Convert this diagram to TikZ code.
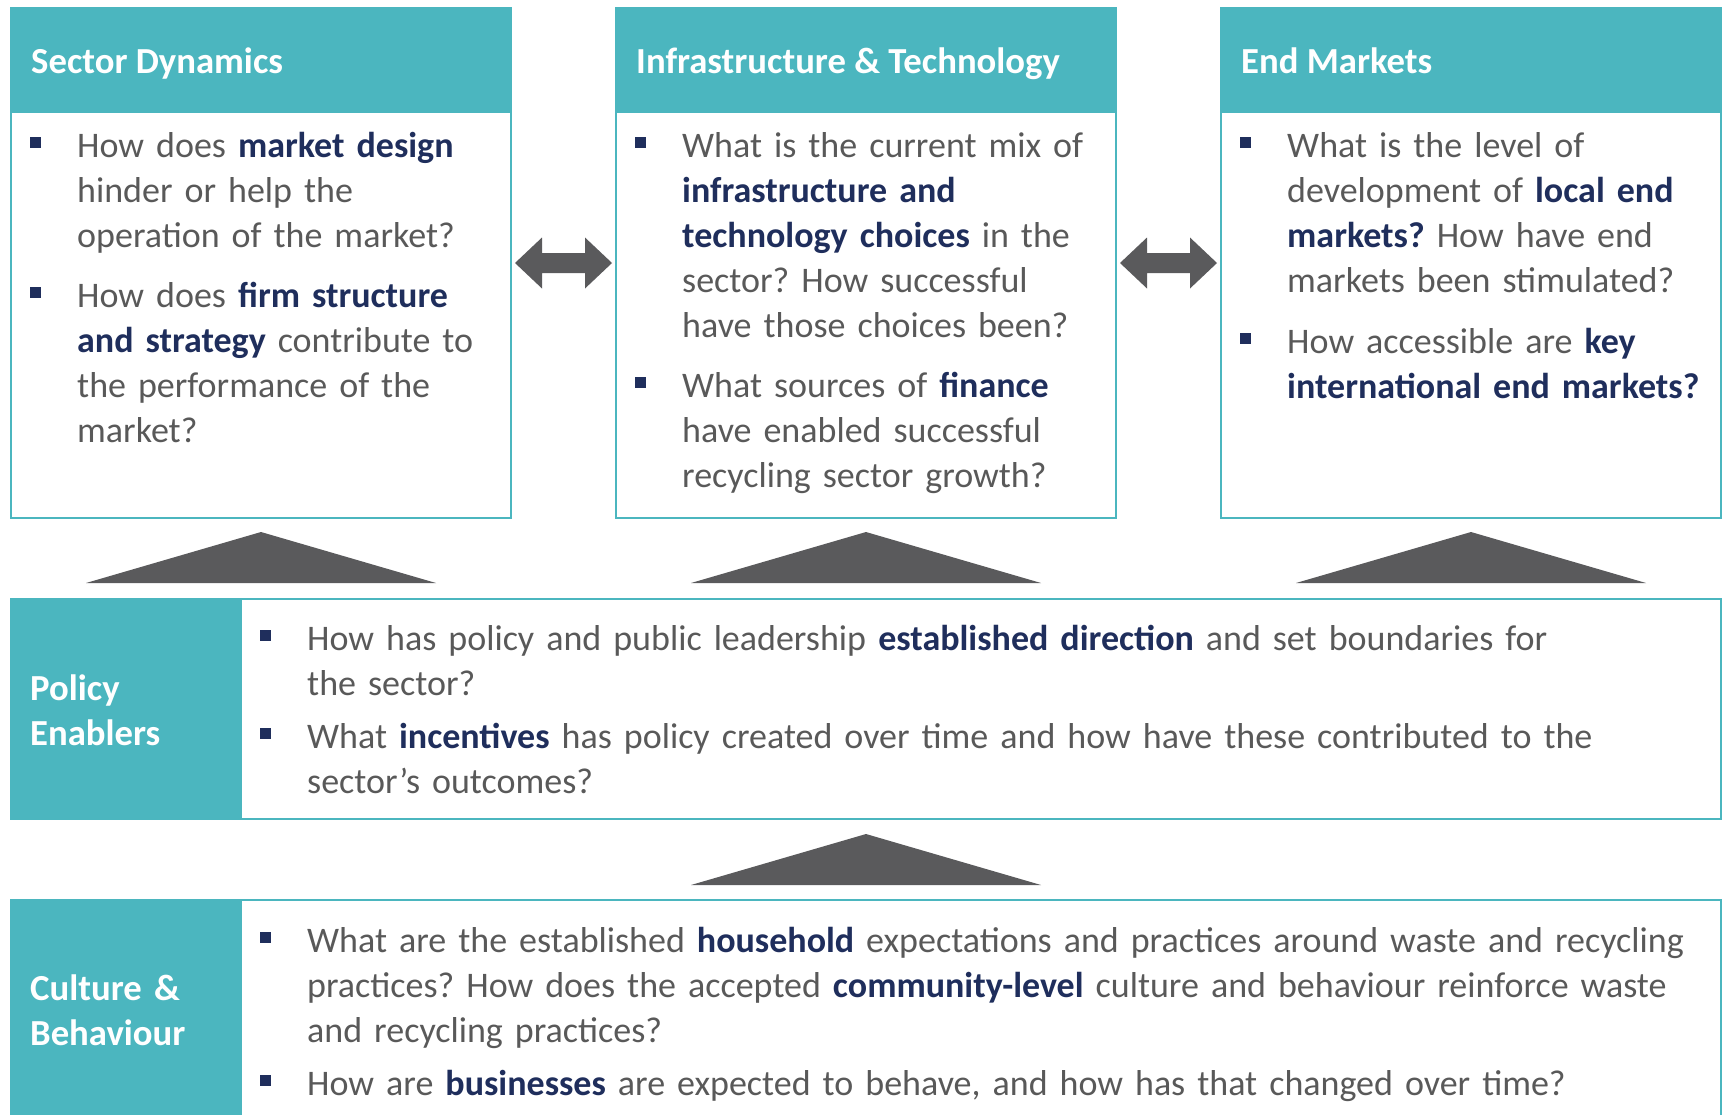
\documentclass[tikz,border=0pt]{standalone}
\usepackage{fontspec}
\setmainfont{Carlito}
\usetikzlibrary{positioning,calc}

\definecolor{boxteal}{HTML}{4BB6BF}
\definecolor{qnavy}{HTML}{1F2E5C}
\definecolor{qgray}{HTML}{595959}
\definecolor{arrowgray}{HTML}{5A5A5C}

\frenchspacing
\hyphenpenalty=10000
\exhyphenpenalty=10000

\newcommand{\qfont}{\fontsize{36pt}{45pt}\selectfont}
\newcommand{\headfont}{\fontsize{36.7pt}{45pt}\selectfont\bfseries}
\newcommand{\kw}[1]{\textbf{\textcolor{qnavy}{#1}}}
\newcommand{\qbullet}{\textcolor{qnavy}{\rule[9pt]{11pt}{11pt}}}
% one question: square bullet, all lines hung at the same indent
\newcommand{\qitem}[1]{\noindent\hangindent=47pt\hangafter=0
	\llap{\makebox[47pt][l]{\qbullet}}#1\par}

\begin{document}
\begin{tikzpicture}[x=1pt,y=1pt,
	qframe/.style={draw=boxteal, line width=2pt, inner sep=0pt, outer sep=0pt},
	topbox/.style={qframe, minimum width=500pt, minimum height=510pt},
	widebox/.style={qframe, minimum width=1710pt, minimum height=220pt, anchor=north west},
	headbar/.style={fill=boxteal, inner sep=0pt, outer sep=0pt, minimum width=500pt, minimum height=105pt, anchor=north west},
	headtext/.style={text=white, font=\headfont, inner sep=0pt, anchor=base west},
	sidebar/.style={fill=boxteal, inner sep=0pt, outer sep=0pt, minimum width=231pt, minimum height=220pt, anchor=north west},
	sidetext/.style={text=white, font=\headfont, inner sep=0pt, text width=200pt, align=left, anchor=base west},
	qtext/.style={text=qgray, font=\qfont, inner sep=0pt, align=left, anchor=base west},
	wedge/.style={fill=arrowgray}
	]
	
	\useasboundingbox (0,0) rectangle (1723,-1114);
	
	% three pillars
	\node[topbox] (sd) at (261,-263) {};
	\node[topbox, right=105pt of sd] (it) {};
	\node[topbox, right=105pt of it] (em) {};
	
	\node[headbar] (sdhead) at (sd.north west) {};
	\node[headbar] (ithead) at (it.north west) {};
	\node[headbar] (emhead) at (em.north west) {};
	
	\node[headtext] (sdtitle) at ($(sdhead.south west)+(20,40)$) {Sector Dynamics};
	\node[headtext] (ittitle) at ($(ithead.south west)+(20,40)$) {Infrastructure \& Technology};
	\node[headtext] (emtitle) at ($(emhead.south west)+(20,40)$) {End Markets};
	
	\node[qtext, text width=490pt] (sdq) at ($(sdhead.south west)+(19,-44)$) {%
		\qitem{How does \kw{market design}\newline hinder or help the\newline operation of the market?}%
		\vspace{15pt}%
		\qitem{How does \kw{firm structure}\newline \kw{and strategy} contribute to\newline the performance of the\newline market?}};
	
	\node[qtext, text width=490pt] (itq) at ($(ithead.south west)+(19,-44)$) {%
		\qitem{What is the current mix of\newline \kw{infrastructure and}\newline \kw{technology choices} in the\newline sector? How successful\newline have those choices been?}%
		\vspace{15pt}%
		\qitem{What sources of \kw{finance}\newline have enabled successful\newline recycling sector growth?}};
	
	\node[qtext, text width=490pt] (emq) at ($(emhead.south west)+(19,-44)$) {%
		\qitem{What is the level of\newline development of \kw{local end}\newline \kw{markets?} How have end\newline markets been stimulated?}%
		\vspace{16pt}%
		\qitem{How accessible are \kw{key}\newline \kw{international end markets?}}};
	
	% two-way arrows between the pillars
	\foreach \a/\b in {sd/it, it/em}
	\fill[arrowgray] ($(\a.east)!0.5!(\b.west)$) ++(-48.5,0) -- ++(27,25.5) -- ++(0,-15.5)
	-- ++(43,0) -- ++(0,15.5) -- ++(27,-25.5) -- ++(-27,-25.5) -- ++(0,15.5)
	-- ++(-43,0) -- ++(0,-15.5) -- cycle;
	
	% wedges under the pillars
	\foreach \b in {sd, it, em}
	\fill[wedge] ($(\b.south)+(0,-14)$) -- ++(175,-51) -- ++(-350,0) -- cycle;
	
	% policy layer
	\node[widebox] (pe) at ($(sd.south west)+(0,-81)$) {};
	\node[sidebar] (pebar) at (pe.north west) {};
	\node[sidetext] (petitle) at ($(pebar.north west)+(19,-101)$) {Policy\newline Enablers};
	\node[qtext, text width=1480pt] (peq) at ($(pebar.north east)+(18,-51)$) {%
		\qitem{How has policy and public leadership \kw{established direction} and set boundaries for\newline the sector?}%
		\vspace{8pt}%
		\qitem{What \kw{incentives} has policy created over time and how have these contributed to the\newline sector’s outcomes?}};
	
	\fill[wedge] ($(pe.south -| it.south)+(0,-15)$) -- ++(175,-51) -- ++(-350,0) -- cycle;
	
	% culture layer
	\node[widebox] (cb) at ($(pe.south west)+(0,-81)$) {};
	\node[sidebar] (cbbar) at (cb.north west) {};
	\node[sidetext] (cbtitle) at ($(cbbar.north west)+(19,-100)$) {Culture \&\newline Behaviour};
	\node[qtext, text width=1480pt] (cbq) at ($(cbbar.north east)+(18,-52)$) {%
		\qitem{What are the established \kw{household} expectations and practices around waste and recycling\newline practices? How does the accepted \kw{community-level} culture and behaviour reinforce waste\newline and recycling practices?}%
		\vspace{8pt}%
		\qitem{How are \kw{businesses} are expected to behave, and how has that changed over time?}};
	
\end{tikzpicture}
\end{document}
